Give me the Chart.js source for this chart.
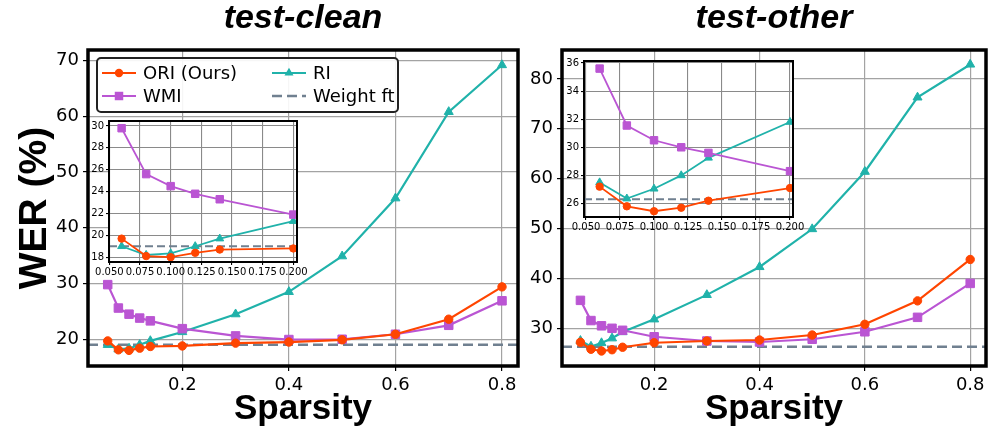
<!DOCTYPE html>
<html>
<head>
<meta charset="utf-8">
<script src="https://cdn.jsdelivr.net/npm/chart.js@4.4.1/dist/chart.umd.min.js"></script>
<style>
  body { margin: 0; background: #fff; }
  #wrap { position: relative; width: 993px; height: 433px; overflow: hidden; }
  canvas { position: absolute; }
</style>
</head>
<body>
<div id="wrap">
  <canvas id="cleanMain" width="540" height="433" style="left:0px;top:0px"></canvas>
  <canvas id="otherMain" width="472" height="433" style="left:521px;top:0px"></canvas>
  <canvas id="cleanInset" width="240" height="172" style="left:84px;top:110px"></canvas>
  <canvas id="otherInset" width="260" height="186" style="left:558px;top:50px"></canvas>
</div>
<script>
// values
var sparsity = [0.06, 0.08, 0.1, 0.12, 0.14, 0.2, 0.3, 0.4, 0.5, 0.6, 0.7, 0.8];
var insetCount = 6; // the zoomed panels only show sparsity <= 0.2

// test-clean
var cleanORI = [19.7, 18.1, 18.0, 18.4, 18.7, 18.8, 19.3, 19.5, 19.9, 20.9, 23.6, 29.4];
var cleanWMI = [29.8, 25.6, 24.5, 23.8, 23.3, 21.9, 20.6, 19.95, 20.0, 20.9, 22.5, 26.9];
var cleanRI = [19.0, 18.2, 18.35, 19.0, 19.7, 21.3, 24.5, 28.5, 34.9, 45.3, 60.8, 69.2];
var cleanWeightFt = 19.0;

// test-other
var otherORI = [27.2, 25.8, 25.45, 25.7, 26.2, 27.1, 27.45, 27.65, 28.65, 30.8, 35.5, 43.8];
var otherWMI = [35.6, 31.55, 30.5, 30.0, 29.6, 28.3, 27.45, 27.25, 27.8, 29.3, 32.2, 39.0];
var otherRI = [27.5, 26.35, 27.05, 28.0, 29.25, 31.8, 36.7, 42.3, 49.9, 61.4, 76.3, 82.9];
var otherWeightFt = 26.3;

// tick labels
var mainXTicks = [0.2, 0.4, 0.6, 0.8];
var insetXTicks = [0.05, 0.075, 0.1, 0.125, 0.15, 0.175, 0.2];
var cleanYTicks = [20, 30, 40, 50, 60, 70];
var otherYTicks = [30, 40, 50, 60, 70, 80];
var cleanInsetYTicks = [18, 20, 22, 24, 26, 28, 30];
var otherInsetYTicks = [26, 28, 30, 32, 34, 36];

var COLORS = { ori: '#FF4500', wmi: '#BA55D3', ri: '#20B2AA', ft: '#708090' };

function points(xs, ys) {
    return ys.map(function (y, i) { return { x: xs[i], y: y }; });
}

function makeDatasets(ori, wmi, ri, ft, n, xMin, xMax, small) {
    var xs = sparsity.slice(0, n);
    var k = small ? 0.88 : 1;
    var lw = small ? 1.8 : 2.2;
    return [
        { label: 'ORI (Ours)', data: points(xs, ori.slice(0, n)), borderColor: COLORS.ori, backgroundColor: COLORS.ori,
          pointStyle: 'circle', pointRadius: 4.2 * k, borderWidth: lw, pointBorderWidth: 1 },
        { label: 'WMI', data: points(xs, wmi.slice(0, n)), borderColor: COLORS.wmi, backgroundColor: COLORS.wmi,
          pointStyle: 'rect', pointRadius: 6 * k, borderWidth: lw, pointBorderWidth: 1 },
        { label: 'RI', data: points(xs, ri.slice(0, n)), borderColor: COLORS.ri, backgroundColor: COLORS.ri,
          pointStyle: 'triangle', pointRadius: 5.2 * k, borderWidth: lw, pointBorderWidth: 1 },
        { label: 'Weight ft', data: [{ x: xMin, y: ft }, { x: xMax, y: ft }], borderColor: COLORS.ft,
          borderDash: small ? [8, 4] : [10, 5], borderWidth: small ? 2 : 2.4, pointRadius: 0 }
    ];
}

function fixedTicks(list) {
    return function (scale) { scale.ticks = list.map(function (v) { return { value: v }; }); };
}

// white plot background + black box round the axes
var axesBox = {
    id: 'axesBox',
    beforeDraw: function (chart, args, opts) {
        var a = chart.chartArea, ctx = chart.ctx;
        if (opts.fill) {
            ctx.save();
            ctx.fillStyle = '#fff';
            ctx.fillRect(a.left, a.top, a.right - a.left, a.bottom - a.top);
            ctx.restore();
        }
    },
    afterDraw: function (chart, args, opts) {
        var a = chart.chartArea, ctx = chart.ctx;
        ctx.save();
        ctx.strokeStyle = '#000';
        ctx.lineWidth = opts.width;
        ctx.strokeRect(a.left, a.top, a.right - a.left, a.bottom - a.top);
        ctx.restore();
    }
};

function drawMarker(ctx, style, x, y, r) {
    ctx.beginPath();
    if (style === 'circle') {
        ctx.arc(x, y, r, 0, Math.PI * 2);
    } else if (style === 'rect') {
        var s = r * Math.SQRT1_2;
        ctx.rect(x - s, y - s, 2 * s, 2 * s);
    } else if (style === 'triangle') {
        ctx.moveTo(x, y - r);
        ctx.lineTo(x + r * 0.866, y + r * 0.5);
        ctx.lineTo(x - r * 0.866, y + r * 0.5);
        ctx.closePath();
    }
    ctx.fill();
}

// matplotlib-like legend with two columns inside the left panel
var boxLegend = {
    id: 'boxLegend',
    afterDatasetsDraw: function (chart, args, opts) {
        if (!opts.show) return;
        var ctx = chart.ctx;
        var x = opts.x, y = opts.y, w = opts.w, h = opts.h, r = 4;
        ctx.save();
        ctx.beginPath();
        ctx.moveTo(x + r, y);
        ctx.arcTo(x + w, y, x + w, y + h, r);
        ctx.arcTo(x + w, y + h, x, y + h, r);
        ctx.arcTo(x, y + h, x, y, r);
        ctx.arcTo(x, y, x + w, y, r);
        ctx.closePath();
        ctx.fillStyle = 'rgba(255,255,255,0.9)';
        ctx.fill();
        ctx.strokeStyle = '#222';
        ctx.lineWidth = 2;
        ctx.stroke();

        ctx.font = '18px "DejaVu Sans"';
        ctx.textBaseline = 'middle';
        ctx.fillStyle = '#000';
        chart.data.datasets.forEach(function (ds, i) {
            var col = Math.floor(i / 2), row = i % 2;
            var lx = opts.colX[col], ly = opts.rowY[row];
            ctx.save();
            ctx.strokeStyle = ds.borderColor;
            ctx.lineWidth = ds.borderWidth;
            ctx.setLineDash(ds.borderDash || []);
            ctx.beginPath();
            ctx.moveTo(lx, ly);
            ctx.lineTo(lx + opts.handle, ly);
            ctx.stroke();
            if (ds.pointRadius) {
                ctx.fillStyle = ds.borderColor;
                drawMarker(ctx, ds.pointStyle, lx + opts.handle / 2, ly, ds.pointRadius);
            }
            ctx.restore();
            ctx.fillText(ds.label, lx + opts.handle + opts.gap, ly + 1);
        });
        ctx.restore();
    }
};

function mainChart(id, title, ori, wmi, ri, ft, xr, yr, yTicks, yAxisWidth, padRight, withYTitle, legend) {
    return new Chart(document.getElementById(id), {
        type: 'line',
        data: { datasets: makeDatasets(ori, wmi, ri, ft, sparsity.length, xr[0], xr[1], false) },
        options: {
            responsive: false,
            animation: false,
            layout: { padding: { left: 0, right: padRight, top: 0, bottom: 0 } },
            elements: { line: { tension: 0 } },
            plugins: {
                legend: { display: false },
                tooltip: { enabled: false },
                title: {
                    display: true, text: title, fullSize: false, color: '#000',
                    font: { family: 'Liberation Sans', size: 34, weight: 'bold', style: 'italic', lineHeight: 0.9 },
                    padding: { top: 3, bottom: 16.4 }
                },
                axesBox: { width: 3.5, fill: false },
                boxLegend: legend
            },
            scales: {
                x: {
                    type: 'linear', min: xr[0], max: xr[1],
                    afterBuildTicks: fixedTicks(mainXTicks),
                    afterFit: function (s) { s.height = 67; },
                    ticks: { color: '#000', font: { family: 'DejaVu Sans', size: 18 }, padding: 4, autoSkip: false, maxRotation: 0,
                             callback: function (v) { return v.toFixed(1); } },
                    grid: { color: '#a3a3a3', lineWidth: 1.2, tickColor: '#000', tickLength: 5, tickWidth: 1.2 },
                    border: { display: false },
                    title: { display: true, text: 'Sparsity', color: '#000',
                             font: { family: 'Liberation Sans', size: 35, weight: 'bold' }, padding: { top: 0, bottom: 3 } }
                },
                y: {
                    type: 'linear', min: yr[0], max: yr[1],
                    afterBuildTicks: fixedTicks(yTicks),
                    afterFit: function (s) { s.width = yAxisWidth; },
                    ticks: { color: '#000', font: { family: 'DejaVu Sans', size: 18 }, padding: 4, autoSkip: false },
                    grid: { color: '#a3a3a3', lineWidth: 1.2, tickColor: '#000', tickLength: 5, tickWidth: 1.2 },
                    border: { display: false },
                    title: { display: withYTitle, text: 'WER (%)', color: '#000',
                             font: { family: 'Liberation Sans', size: 39, weight: 'bold' }, padding: { top: 12, bottom: 0 } }
                }
            }
        },
        plugins: [axesBox, boxLegend]
    });
}

function insetChart(id, ori, wmi, ri, ft, xr, yr, yTicks, yAxisWidth, xAxisHeight, pad) {
    var tickFont = { family: 'DejaVu Sans', size: 10 };
    return new Chart(document.getElementById(id), {
        type: 'line',
        data: { datasets: makeDatasets(ori, wmi, ri, ft, insetCount, xr[0], xr[1], true) },
        options: {
            responsive: false,
            animation: false,
            layout: { padding: pad },
            elements: { line: { tension: 0 } },
            plugins: {
                legend: { display: false },
                tooltip: { enabled: false },
                axesBox: { width: 2, fill: true },
                boxLegend: { show: false }
            },
            scales: {
                x: {
                    type: 'linear', min: xr[0], max: xr[1],
                    afterBuildTicks: fixedTicks(insetXTicks),
                    afterFit: function (s) { s.height = xAxisHeight; },
                    ticks: { color: '#000', font: tickFont, padding: 1, autoSkip: false, maxRotation: 0,
                             callback: function (v) { return v.toFixed(3); } },
                    grid: { color: '#8a8a8a', lineWidth: 1.1, tickColor: '#000', tickLength: 3 },
                    border: { display: false }
                },
                y: {
                    type: 'linear', min: yr[0], max: yr[1],
                    afterBuildTicks: fixedTicks(yTicks),
                    afterFit: function (s) { s.width = yAxisWidth; },
                    ticks: { color: '#000', font: tickFont, padding: 2, autoSkip: false },
                    grid: { color: '#8a8a8a', lineWidth: 1.1, tickColor: '#000', tickLength: 3 },
                    border: { display: false }
                }
            }
        },
        plugins: [axesBox, boxLegend]
    });
}

mainChart('cleanMain', 'test-clean', cleanORI, cleanWMI, cleanRI, cleanWeightFt,
    [0.023, 0.83], [15.2, 71.9], cleanYTicks, 88, 22, true,
    { show: true, x: 97, y: 58, w: 301, h: 54, colX: [102, 272], rowY: [73, 96], handle: 34, gap: 7 });

mainChart('otherMain', 'test-other', otherORI, otherWMI, otherRI, otherWeightFt,
    [0.025, 0.83], [22.44, 85.8], otherYTicks, 41, 3, false, { show: false });

insetChart('cleanInset', cleanORI, cleanWMI, cleanRI, cleanWeightFt,
    [0.0497, 0.203], [17.56, 30.46], cleanInsetYTicks, 25, 20, { left: 0, right: 27, top: 11, bottom: 0 });

insetChart('otherInset', otherORI, otherWMI, otherRI, otherWeightFt,
    [0.0485, 0.2022], [25.04, 36.14], otherInsetYTicks, 26, 19, { left: 0, right: 25, top: 11, bottom: 0 });
</script>
</body>
</html>
